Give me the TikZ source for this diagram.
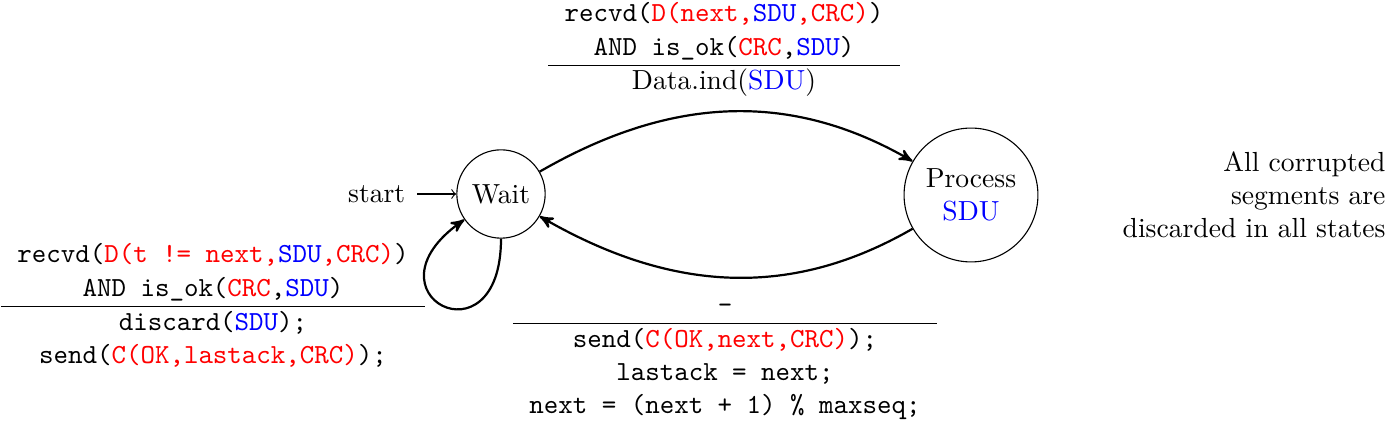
\documentclass[tikz,border=0pt]{standalone}
\usetikzlibrary{arrows}
\begin{document}
\begin{tikzpicture}[x=0.3623pt,y=0.3623pt,
  stnode/.style={circle,draw,inner sep=0pt},
  trans/.style={thick,-stealth'},
  lbl/.style={inner sep=0pt}]
\useasboundingbox (0,-424) rectangle (1386,0);
\node[stnode, minimum size=32pt] (wait) at (501,-194) {Wait};
\node[stnode, minimum size=48.5pt, align=center] (proc) at (971,-195) {Process\\\textcolor{blue}{SDU}};
\node[anchor=east, inner sep=0pt, outer xsep=4.3pt] (start) at (417,-194) {start};
\draw[->] (start) -- (wait);
\draw[trans] (wait) to[out=30,in=150] (proc);
\draw[trans] (proc) to[out=210,in=330] (wait);
\draw[trans] (wait) to[out=270,in=215,looseness=8] (wait);
\node[lbl] (ltop) at (724,-49) {\begin{tabular}{c}\texttt{recvd(\textcolor{red}{D(next,\textcolor{blue}{SDU},CRC)})}\\ \texttt{AND is\_ok(\textcolor{red}{CRC},\textcolor{blue}{SDU})}\\ \hline Data.ind(\textcolor{blue}{SDU})\end{tabular}};
\node[lbl] (lleft) at (213,-306.5) {\begin{tabular}{c}\texttt{recvd(\textcolor{red}{D(t != next,\textcolor{blue}{SDU},CRC)})}\\ \texttt{AND is\_ok(\textcolor{red}{CRC},\textcolor{blue}{SDU})}\\ \hline \texttt{discard(\textcolor{blue}{SDU});}\\ \texttt{send(\textcolor{red}{C(OK,lastack,CRC)});}\end{tabular}};
\node[lbl] (lbot) at (725,-357) {\begin{tabular}{c}\texttt{-}\\ \hline \texttt{send(\textcolor{red}{C(OK,next,CRC)});}\\ \texttt{lastack = next;}\\ \texttt{next = (next + 1) \% maxseq;}\end{tabular}};
\node[anchor=north east, inner sep=0pt, align=right] (note) at (1386,-150.8) {All corrupted\\segments are\\discarded in all states};
\end{tikzpicture}
\end{document}
